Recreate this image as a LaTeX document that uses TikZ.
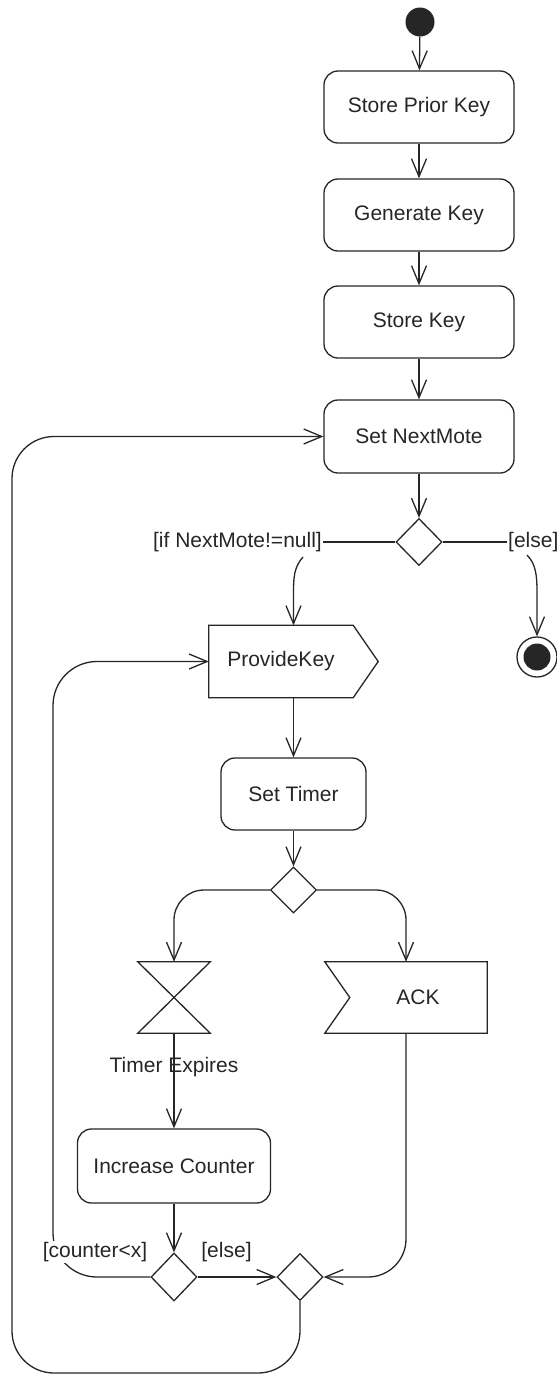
\documentclass[tikz,border=0pt]{standalone}
\usepackage{fontspec}
\setmainfont{Liberation Sans}
\usetikzlibrary{arrows.meta,shapes.geometric}

\begin{document}
\begin{tikzpicture}[x=1pt,y=-1pt,
    every node/.style={font=\fontsize{21}{25}\selectfont,text=black!85},
    wire/.style={draw=black!85,line width=1.3pt},
    flow/.style={wire,-{Straight Barb[length=18pt,width=15pt]}},
    action/.style={rectangle,rounded corners=14pt,wire,minimum width=190pt,minimum height=72pt,inner sep=0pt},
    decision/.style={diamond,wire,minimum width=46pt,minimum height=47pt,inner sep=0pt},
    guard/.style={fill=white,inner sep=1pt}]
\useasboundingbox (0,0) rectangle (557,1374);

% main column
\node[circle,fill=black!85,minimum size=29pt,inner sep=0pt] (start) at (420,22) {};
\node[action] (spk) at (419,107) {Store Prior Key};
\node[action] (gen) at (419,215) {Generate Key};
\node[action] (sk) at (419,322) {Store Key};
\node[action,minimum height=73pt] (snm) at (419,436.5) {Set NextMote};
\node[decision] (dec1) at (419,542) {};
\node[anchor=east,inner sep=1pt] (ifyes) at (323,542) {[if NextMote!=null]};
\node[anchor=west,inner sep=1pt] (ifelse) at (507,542) {[else]};
\node[circle,wire,minimum size=40pt,inner sep=0pt] (final) at (537,657) {};
\node[circle,fill=black!85,minimum size=27pt,inner sep=0pt] (finaldot) at (final.center) {};

% key exchange
\node[minimum width=169pt,minimum height=72pt,inner sep=0pt] (provide) at (293.5,661.5) {};
\node (providetxt) at (281,661.5) {ProvideKey};
\draw[wire] (provide.north west) -- ([xshift=-25pt]provide.north east) -- (provide.east)
    -- ([xshift=-25pt]provide.south east) -- (provide.south west) -- cycle;
\node[action,minimum width=145pt] (settimer) at (293.5,794) {Set Timer};
\node[decision,minimum height=46pt] (dec2) at (293.5,890) {};

% timer / ack
\node[minimum width=72pt,minimum height=71pt,inner sep=0pt] (timer) at (174,997.5) {};
\draw[wire] (timer.north west) -- (timer.north east) -- (timer.south west) -- (timer.south east) -- cycle;
\node (timertxt) at (174,1067) {Timer Expires};
\node[minimum width=162pt,minimum height=71pt,inner sep=0pt] (ack) at (406,997.5) {};
\node (acktxt) at (418,997.5) {ACK};
\draw[wire] (ack.north west) -- (ack.north east) -- (ack.south east) -- (ack.south west)
    -- ([xshift=25pt]ack.west) -- cycle;
\node[action,minimum width=193pt,minimum height=74pt] (incr) at (174,1166) {Increase Counter};
\node[decision,minimum height=48pt] (dec3) at (174,1277) {};
\node[decision] (dec4) at (300,1277) {};

\coordinate (yesbend) at (303,557);
\coordinate (elsebend) at (527,555);
\coordinate (innerx) at (53,0);
\coordinate (outerb) at (12,1373);

\begin{scope}[every edge/.style={flow}]
    \path (start) edge (spk);
    \path (spk) edge (gen);
    \path (gen) edge (sk);
    \path (sk) edge (snm);
    \path (snm) edge (dec1);
    \path (provide.south) edge (settimer);
    \path (settimer) edge (dec2);
    \path (timer) edge (incr);
    \path (incr) edge (dec3);
    \path (dec3) edge (dec4);
\end{scope}
\draw[wire] (dec1.west) -- (ifyes.east);
\draw[wire] (dec1.east) -- (ifelse.west);
\draw[flow] (yesbend) .. controls (294,567) and (293.5,578) .. (293.5,592) -- (provide.north);
\draw[flow] (elsebend) .. controls (536,564) and (537,576) .. (537,592) -- (final.north);
\draw[flow,rounded corners=30pt] (dec2.west) -| (timer.north);
\draw[flow,rounded corners=30pt] (dec2.east) -| (ack.north);
\draw[flow,rounded corners=38pt] (ack.south) |- (dec4.east);
\draw[flow,rounded corners=44pt] (dec3.west) -| (innerx |- provide.west) -- (provide.west);
\draw[flow,rounded corners=42pt] (dec4.south) |- (outerb) |- (snm.west);

% guards on the join
\node[guard] (cntless) at (95,1252) {[counter<x]};
\node[guard] (joinelse) at (226.5,1252) {[else]};
\end{tikzpicture}
\end{document}
